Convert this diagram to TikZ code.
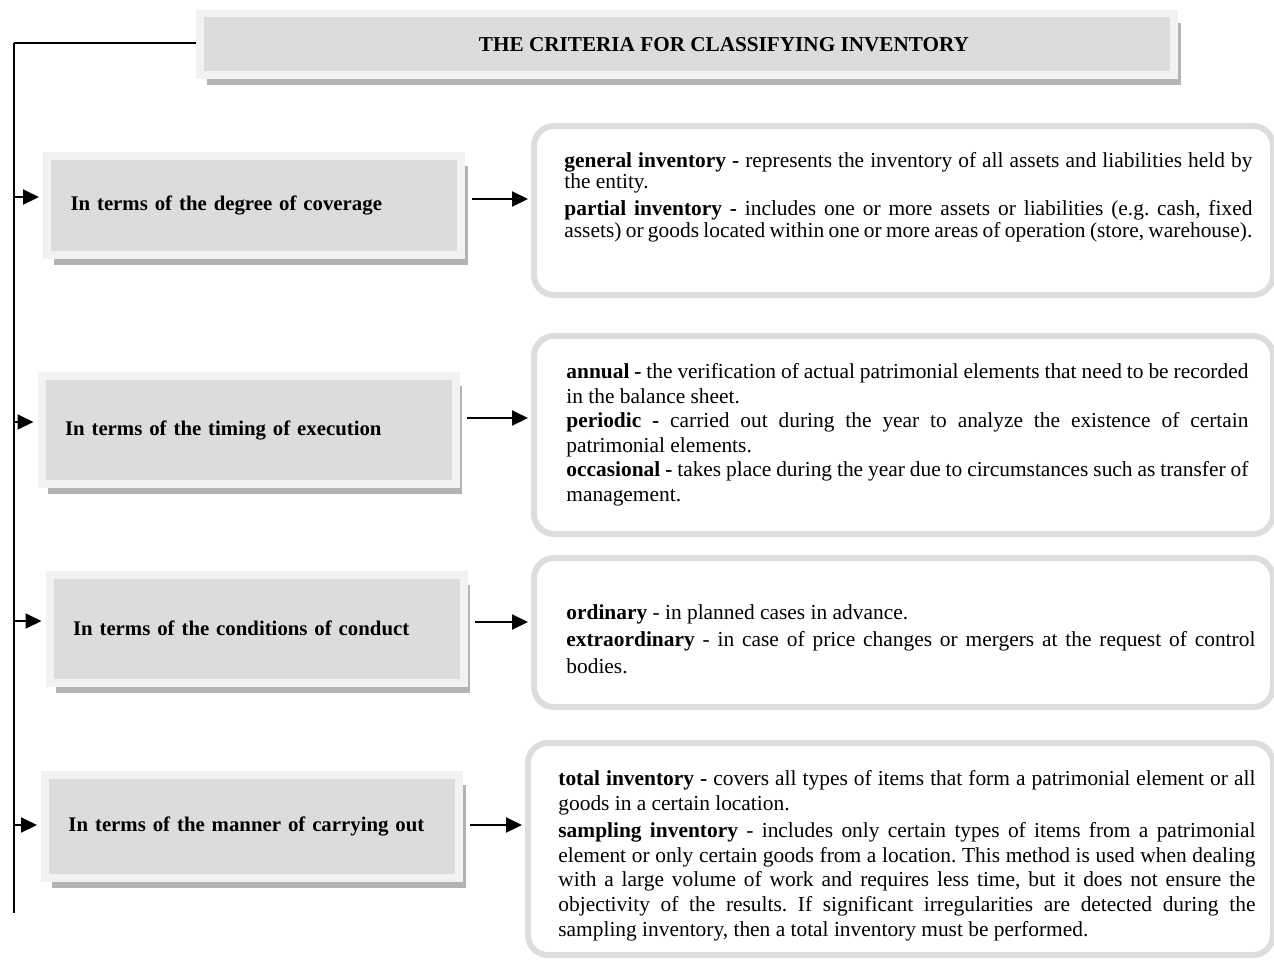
\documentclass[tikz,border=0pt]{standalone}
\usepackage{fontspec}
\setmainfont{Liberation Serif}
\usetikzlibrary{arrows.meta,shadows}

\definecolor{framegray}{HTML}{F2F2F2}
\definecolor{boxgray}{HTML}{DCDCDC}
\definecolor{shadowgray}{HTML}{B3B3B3}
\definecolor{edgegray}{HTML}{DDDDDD}

\hyphenpenalty=10000
\exhyphenpenalty=10000
\frenchspacing

\begin{document}
\begin{tikzpicture}[x=0.5pt, y=-0.5pt,
  titlebox/.style={draw=framegray, line width=3.75pt, fill=boxgray,
    minimum width=487pt, minimum height=30.75pt, inner sep=0pt,
    font=\bfseries\fontsize{10.6}{12}\selectfont,
    drop shadow={shadow xshift=3.5pt, shadow yshift=-4.75pt, fill=shadowgray, opacity=1}},
  catbox/.style={draw=framegray, line width=4pt, fill=boxgray,
    text width=183.5pt, inner xsep=11.75pt, align=left,
    font=\bfseries\fontsize{10.4}{12}\selectfont,
    drop shadow={shadow xshift=3.25pt, shadow yshift=-5pt, fill=shadowgray, opacity=1}},
  listbox/.style={draw=edgegray, line width=3pt, rounded corners=10pt,
    minimum width=369.5pt},
  listtext/.style={anchor=north west, inner sep=0pt, align=justify,
    font=\fontsize{10.7}{10.75}\selectfont},
  feed/.style={line width=1pt, -{Triangle[length=8pt, width=7.5pt]}}
]
  \useasboundingbox (0,0) rectangle (1274,960);

  \coordinate (top) at (14,43);
  \coordinate (bottom) at (14,913);
  \draw[line width=1pt] (top) -- (bottom);
  \draw[line width=1pt] (top) -- (200,43);

  \node[titlebox] (title) at (687,44.25)
    {\hspace*{37pt}THE CRITERIA FOR CLASSIFYING INVENTORY};

  \node[catbox, minimum height=49.5pt] (cov) at (254,205)
    {In terms of the degree of coverage};
  \node[catbox, minimum height=54pt] (tim) at (248.5,430)
    {In terms of the timing of execution};
  \node[catbox, minimum height=54pt] (con) at (256.5,628.5)
    {In terms of the conditions of conduct};
  \node[catbox, minimum height=51.5pt] (man) at (252,826)
    {In terms of the manner of carrying out};

  \node[listbox, minimum height=84.5pt] (covlist) at (903.5,210.5) {};
  \node[listbox, minimum height=99pt] (timlist) at (903.5,435) {};
  \node[listbox, minimum height=74.5pt] (conlist) at (903.5,632.5) {};
  \node[listbox, minimum height=106pt, minimum width=372.5pt] (manlist) at (900.5,849) {};

  \node[listtext, text width=344pt] (covtext) at (564,152)
    {\textbf{general inventory -} represents the inventory of all assets and liabilities held by\linebreak the entity.\\[2.75pt]
     \textbf{partial inventory -} includes one or more assets or liabilities (e.g. cash, fixed\linebreak assets) or goods located within one or more areas of operation (store, warehouse).};
  \node[listtext, text width=341pt, font=\fontsize{10.7}{12.3}\selectfont] (timtext) at (566,363)
    {\textbf{annual -} the verification of actual patrimonial elements that need to be recorded\linebreak in the balance sheet.\\
     \textbf{periodic -} carried out during the year to analyze the existence of certain\linebreak patrimonial elements.\\
     \textbf{occasional -} takes place during the year due to circumstances such as transfer of\linebreak management.};
  \node[listtext, text width=344.5pt, font=\fontsize{10.7}{13.5}\selectfont] (context) at (566,604)
    {\textbf{ordinary} - in planned cases in advance.\\
     \textbf{extraordinary} - in case of price changes or mergers at the request of control\linebreak bodies.};
  \node[listtext, text width=348.5pt, font=\fontsize{10.7}{12.3}\selectfont] (mantext) at (558,770)
    {\textbf{total inventory -} covers all types of items that form a patrimonial element or all\linebreak goods in a certain location.\\[1.5pt]
     \textbf{sampling inventory} - includes only certain types of items from a patrimonial\linebreak element or only certain goods from a location. This method is used when dealing\linebreak with a large volume of work and requires less time, but it does not ensure the\linebreak objectivity of the results. If significant irregularities are detected during the\linebreak sampling inventory, then a total inventory must be performed.};

  \coordinate (in1) at (14,197);
  \coordinate (in2) at (14,422);
  \coordinate (in3) at (14,621);
  \coordinate (in4) at (14,825);
  \draw[feed, shorten >=2pt] (in1) -- (in1 -| cov.west);
  \draw[feed, shorten >=2pt] (in2) -- (in2 -| tim.west);
  \draw[feed, shorten >=2pt] (in3) -- (in3 -| con.west);
  \draw[feed, shorten >=2pt] (in4) -- (in4 -| man.west);

  \coordinate (out1) at ([yshift=3pt]cov.east);
  \coordinate (out2) at ([yshift=6pt]tim.east);
  \coordinate (out3) at ([yshift=3.25pt]con.east);
  \coordinate (out4) at ([yshift=0.5pt]man.east);
  \draw[feed, shorten <=3.5pt, shorten >=1.5pt] (out1) -- (out1 -| covlist.west);
  \draw[feed, shorten <=3.5pt, shorten >=1.5pt] (out2) -- (out2 -| timlist.west);
  \draw[feed, shorten <=3.5pt, shorten >=1.5pt] (out3) -- (out3 -| conlist.west);
  \draw[feed, shorten <=3.5pt, shorten >=1.5pt] (out4) -- (out4 -| manlist.west);
\end{tikzpicture}
\end{document}
